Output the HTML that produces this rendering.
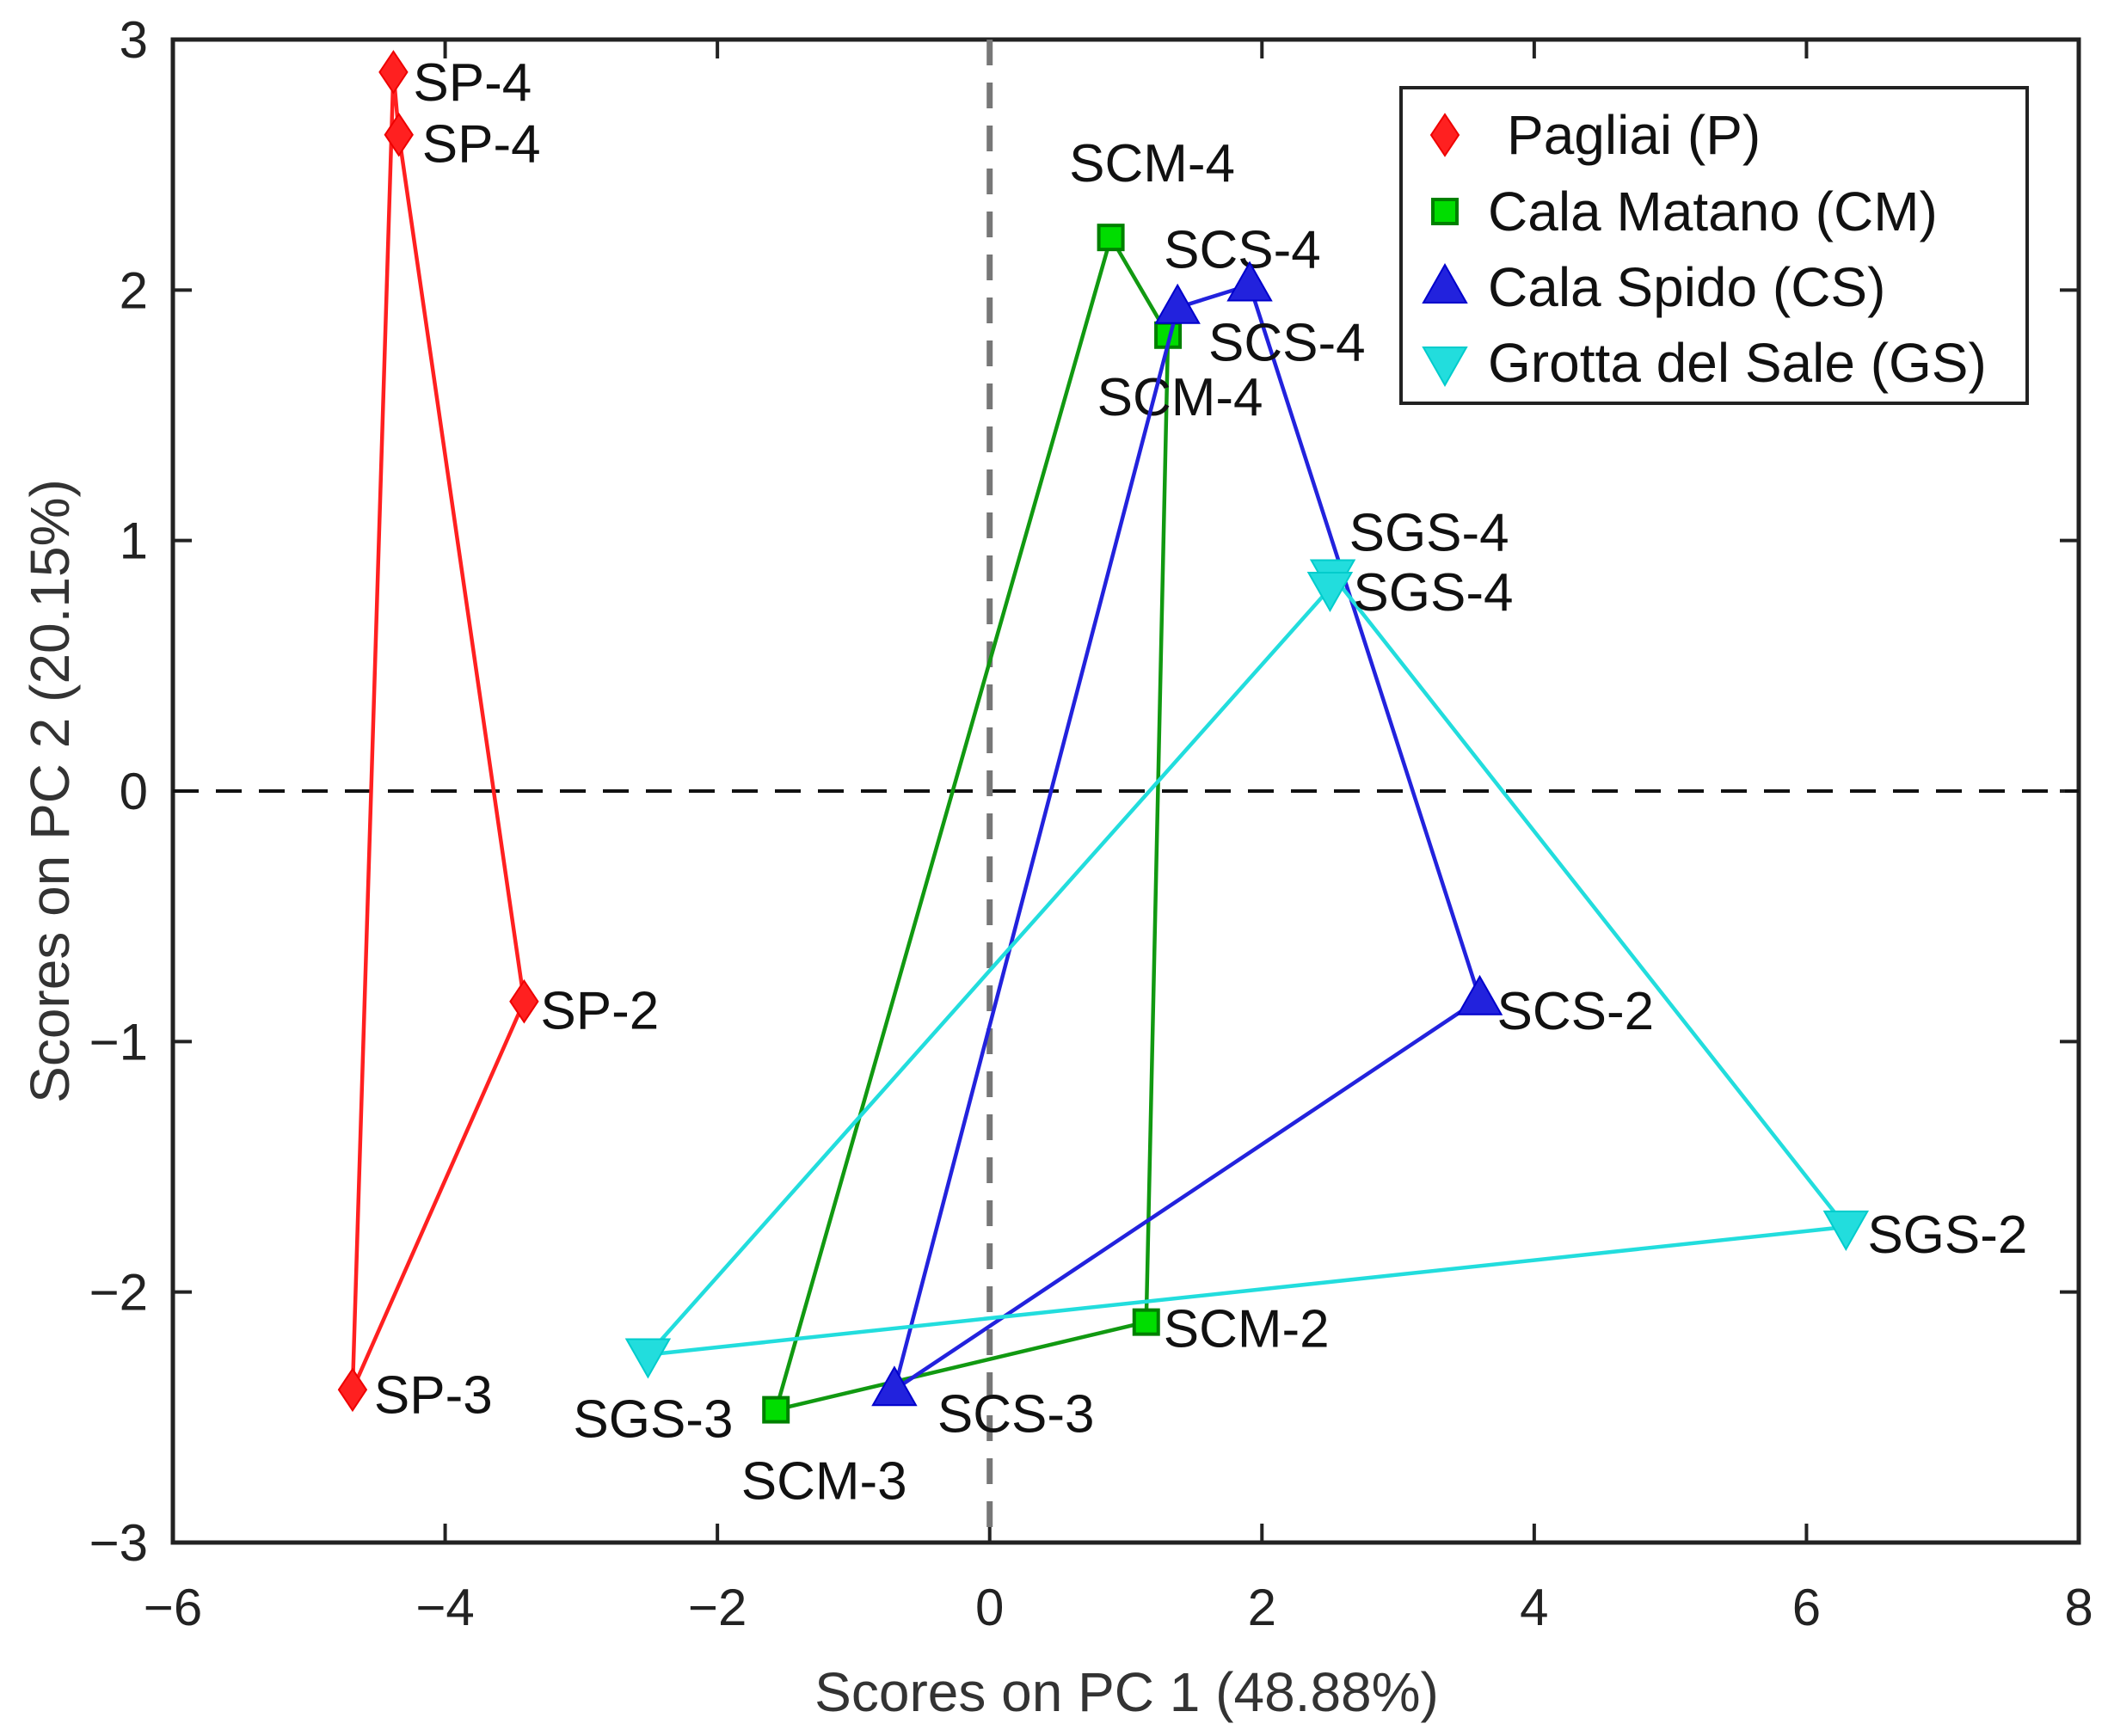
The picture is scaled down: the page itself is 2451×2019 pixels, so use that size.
<!DOCTYPE html>
<html><head><meta charset="utf-8"><style>
html,body{margin:0;padding:0;background:#fff}
svg{display:block}
text{font-family:"Liberation Sans",sans-serif}
</style></head><body>
<svg id="chart" width="2451" height="2019" viewBox="0 0 2451 2019" xmlns="http://www.w3.org/2000/svg">
<g id="layer"></g>
</svg>
<script>
const xTicks=[-6,-4,-2,0,2,4,6,8];
const yTicks=[-3,-2,-1,0,1,2,3];
const groupNames=["Pagliai (P)","Cala Matano (CM)","Cala Spido (CS)","Grotta del Sale (GS)"];
const pLabels=["SP-4","SP-4","SP-2","SP-3"];
const pX=[-4.38,-4.34,-3.42,-4.68];
const pY=[2.87,2.62,-0.84,-2.39];
const cmLabels=["SCM-4","SCM-4","SCM-2","SCM-3"];
const cmX=[0.89,1.31,1.15,-1.57];
const cmY=[2.21,1.82,-2.12,-2.47];
const csLabels=["SCS-4","SCS-4","SCS-2","SCS-3"];
const csX=[1.38,1.91,3.60,-0.70];
const csY=[1.93,2.02,-0.83,-2.39];
const gsLabels=["SGS-4","SGS-2","SGS-3","SGS-4"];
const gsX=[2.52,6.29,-2.51,2.50];
const gsY=[0.86,-1.74,-2.25,0.81];

const L=201,R=2417,T=46,B=1794;
const X=v=>L+(v+6)/14*(R-L);
const Y=v=>T+(3-v)/6*(B-T);
const NS="http://www.w3.org/2000/svg";
const g=document.getElementById('layer');
function mk(tag,attrs,parent){const e=document.createElementNS(NS,tag);for(const k in attrs)e.setAttribute(k,attrs[k]);(parent||g).appendChild(e);return e;}

let e=mk('rect',{x:L,y:T,width:R-L,height:B-T,fill:'none',stroke:'#222','stroke-width':5});


xTicks.forEach(t=>{
 let a=mk('line',{x1:X(t),x2:X(t),y1:B,y2:B-22,stroke:'#222','stroke-width':4});
 
 
 let b=mk('line',{x1:X(t),x2:X(t),y1:T,y2:T+22,stroke:'#222','stroke-width':4});
 
 
 let tx=mk('text',{x:X(t),y:1890,'font-size':60,'text-anchor':'middle',fill:'#222'});
 tx.textContent=(t<0?'\u2212':'')+Math.abs(t);
 
 
});
yTicks.forEach(t=>{
 let a=mk('line',{x1:L,x2:L+22,y1:Y(t),y2:Y(t),stroke:'#222','stroke-width':4});
 
 
 let b=mk('line',{x1:R,x2:R-22,y1:Y(t),y2:Y(t),stroke:'#222','stroke-width':4});
 
 
 let tx=mk('text',{x:172,y:Y(t)+21,'font-size':60,'text-anchor':'end',fill:'#222'});
 tx.textContent=(t<0?'\u2212':'')+Math.abs(t);
 
 
});
e=mk('line',{x1:L,x2:R,y1:Y(0),y2:Y(0),stroke:'#111','stroke-width':4,'stroke-dasharray':'30 20'});


e=mk('line',{x1:X(0),x2:X(0),y1:T,y2:B,stroke:'#777','stroke-width':7,'stroke-dasharray':'30 20'});


e=mk('text',{x:1310,y:1990,'font-size':64,'text-anchor':'middle',fill:'#333'});
e.textContent='Scores on PC 1 (48.88%)';


e=mk('text',{x:0,y:0,'font-size':64,'text-anchor':'middle',fill:'#333',transform:'translate(80,920) rotate(-90)'});
e.textContent='Scores on PC 2 (20.15%)';



function marker(type,cx,cy,color,parent){
 let m;
 if(type==='d') m=mk('polygon',{points:`${cx},${cy-24} ${cx+16},${cy} ${cx},${cy+24} ${cx-16},${cy}`,fill:color,stroke:'#e00','stroke-width':2},parent);
 else if(type==='s') m=mk('rect',{x:cx-14,y:cy-14,width:28,height:28,fill:'#00dd00',stroke:'#008000','stroke-width':4},parent);
 else if(type==='u') m=mk('polygon',{points:`${cx},${cy-26} ${cx+25},${cy+18} ${cx-25},${cy+18}`,fill:color,stroke:'#0000cc','stroke-width':2},parent);
 else m=mk('polygon',{points:`${cx-25},${cy-18} ${cx+25},${cy-18} ${cx},${cy+26}`,fill:color,stroke:'#00cccc','stroke-width':2},parent);
 return m;
}
const series=[
 {xs:pX,ys:pY,labs:pLabels,color:'#ff2020',m:'d',name:'pagliai',
  off:[[23,12,'start'],[27,11,'start'],[19,11,'start'],[25,6,'start']]},
 {xs:cmX,ys:cmY,labs:cmLabels,color:'#119911',m:'s',name:'cala-matano',
  off:[[48,-86,'middle'],[14,72,'middle'],[20,8,'start'],[56,83,'middle']]},
 {xs:csX,ys:csY,labs:csLabels,color:'#2222dd',m:'u',name:'cala-spido',
  off:[[-16,-67,'start'],[-48,67,'start'],[20,14,'start'],[50,28,'start']]},
 {xs:gsX,ys:gsY,labs:gsLabels,color:'#22dddd',m:'v',name:'grotta-del-sale',
  off:[[19,-50,'start'],[25,9,'start'],[6,75,'middle'],[27,5,'start']]}
];
series.forEach(s=>{
 const sg=mk('g',{});
 
 
 const pts=s.xs.map((v,i)=>X(v)+','+Y(s.ys[i])).join(' ');
 let pl=mk('polygon',{points:pts,fill:'none',stroke:s.color,'stroke-width':4.5},sg);
 
 
 s.xs.forEach((v,i)=>{
  let m=marker(s.m,X(v),Y(s.ys[i]),s.color,sg);
  
  
  const o=s.off[i];
  let t=mk('text',{x:X(v)+o[0],y:Y(s.ys[i])+o[1]+21,'font-size':62,'text-anchor':o[2],fill:'#111'},sg);
  t.textContent=s.labs[i];
  
  
 });
});
const lg=mk('g',{});


e=mk('rect',{x:1629,y:102,width:728,height:367,fill:'#fff',stroke:'#222','stroke-width':4},lg);


const lm=['d','s','u','v'],lc=['#ff2020','#119911','#2222dd','#22dddd'],ly=[157,246,334,422],ltx=[1752,1730,1730,1730];
groupNames.forEach((n,i)=>{
 let m=marker(lm[i],1680,ly[i],lc[i],lg);
 
 
 let t=mk('text',{x:ltx[i],y:ly[i]+22,'font-size':64,fill:'#111'},lg);
 t.textContent=n;
 
 
});
</script>
</body></html>
